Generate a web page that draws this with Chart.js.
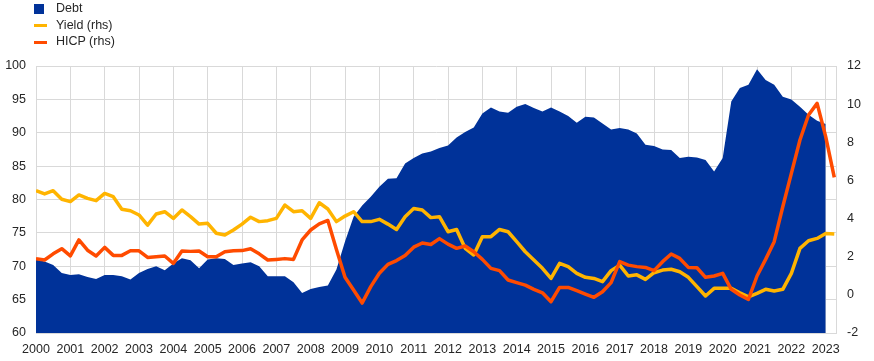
<!DOCTYPE html>
<html>
<head>
<meta charset="utf-8">
<script src="https://cdn.jsdelivr.net/npm/chart.js@4/dist/chart.umd.min.js"></script>
<style>
  html, body { margin: 0; padding: 0; background: #ffffff; overflow: hidden; }
  #wrap { position: relative; width: 874px; height: 361px; }
  #c { position: absolute; left: 0; top: 0; }
  .leg { position: absolute; left: 0; top: 0; font-family: "Liberation Sans", Arial, sans-serif; font-size: 12.5px; color: #262626; }
  .item { position: absolute; left: 56px; height: 15px; line-height: 15px; white-space: nowrap; }
  .mk { position: absolute; }
</style>
</head>
<body>
<div id="wrap">
  <canvas id="c" width="874" height="361"></canvas>
  <div class="leg">
    <div class="mk" style="left:34px;top:4px;width:10px;height:10px;background:#003299"></div>
    <div class="item" style="top:1px">Debt</div>
    <div class="mk" style="left:34px;top:24px;width:13px;height:3px;background:#FFB400"></div>
    <div class="item" style="top:17.5px">Yield (rhs)</div>
    <div class="mk" style="left:34px;top:40.5px;width:13px;height:3px;background:#FF4B00"></div>
    <div class="item" style="top:34px">HICP (rhs)</div>
  </div>
</div>
<script>
// Quarterly data, first observation 2000 Q1
const startYear = 2000;
const seriesNames = ["Debt", "Yield (rhs)", "HICP (rhs)"];
const yearTicks = [2000, 2001, 2002, 2003, 2004, 2005, 2006, 2007, 2008, 2009, 2010, 2011,
                   2012, 2013, 2014, 2015, 2016, 2017, 2018, 2019, 2020, 2021, 2022, 2023];
const leftTicks = [60, 65, 70, 75, 80, 85, 90, 95, 100];
const rightTicks = [-2, 0, 2, 4, 6, 8, 10, 12];

// Debt (% of GDP), 2000Q1 .. 2023Q1
const debt = [
  71.0, 70.7, 70.2, 69.0,
  68.7, 68.8, 68.4, 68.1,
  68.7, 68.7, 68.5, 68.0,
  69.0, 69.6, 70.0, 69.4,
  70.4, 71.2, 70.9, 69.7,
  71.0, 71.2, 71.1, 70.2,
  70.4, 70.6, 70.0, 68.5,
  68.5, 68.5, 67.6, 66.0,
  66.6, 66.9, 67.1, 69.5,
  73.7, 77.4, 79.1, 80.4,
  81.9, 83.1, 83.2, 85.4,
  86.2, 86.9, 87.2, 87.7,
  88.1, 89.3, 90.1, 90.8,
  92.9, 93.8, 93.2, 93.0,
  93.9, 94.3, 93.7, 93.2,
  93.8, 93.2, 92.5, 91.5,
  92.4, 92.3, 91.4, 90.5,
  90.7, 90.5, 89.9, 88.2,
  88.0, 87.5, 87.4, 86.2,
  86.4, 86.3, 85.9, 84.2,
  86.2, 94.7, 96.7, 97.2,
  99.5, 97.9, 97.2, 95.4,
  95.0, 93.9, 92.7, 91.8,
  91.3
];

// 10-year yield (%, rhs), 2000Q1 .. 2023Q2
const yieldRhs = [
  5.46, 5.29, 5.46, 5.01,
  4.89, 5.24, 5.06, 4.94,
  5.32, 5.15, 4.49, 4.41,
  4.19, 3.66, 4.24, 4.36,
  4.01, 4.45, 4.10, 3.71,
  3.75, 3.23, 3.14, 3.40,
  3.71, 4.07, 3.84, 3.89,
  4.01, 4.71, 4.36, 4.41,
  4.01, 4.83, 4.50, 3.84,
  4.13, 4.36, 3.84, 3.84,
  3.96, 3.71, 3.43, 4.10,
  4.53, 4.45, 4.05, 4.10,
  3.31, 3.43, 2.44, 2.09,
  3.05, 3.05, 3.43, 3.31,
  2.79, 2.26, 1.83, 1.39,
  0.86, 1.65, 1.48, 1.13,
  0.92, 0.86, 0.69, 1.27,
  1.56, 0.99, 1.05, 0.81,
  1.16, 1.30, 1.34, 1.21,
  0.92, 0.43, -0.06, 0.34,
  0.34, 0.34, 0.11, -0.10,
  0.08, 0.29, 0.20, 0.29,
  1.13, 2.44, 2.84, 2.96,
  3.22, 3.19
];

// HICP inflation (%, rhs), 2000Q1 .. 2023Q2
const hicp = [
  1.90, 1.83, 2.15, 2.42,
  2.04, 2.88, 2.34, 2.04,
  2.49, 2.07, 2.07, 2.31,
  2.31, 1.96, 2.00, 2.04,
  1.65, 2.30, 2.28, 2.30,
  2.00, 2.00, 2.26, 2.31,
  2.32, 2.42, 2.15, 1.83,
  1.86, 1.90, 1.86, 2.88,
  3.40, 3.72, 3.90, 2.38,
  0.92, 0.25, -0.43, 0.43,
  1.13, 1.60, 1.80, 2.06,
  2.50, 2.72, 2.64, 2.95,
  2.66, 2.44, 2.56, 2.26,
  1.86, 1.39, 1.27, 0.78,
  0.64, 0.51, 0.29, 0.11,
  -0.36, 0.39, 0.39, 0.22,
  0.04, -0.13, 0.16, 0.64,
  1.74, 1.56, 1.48, 1.44,
  1.27, 1.74, 2.14, 1.91,
  1.44, 1.42, 0.92, 0.99,
  1.13, 0.29, -0.01, -0.24,
  0.99, 1.86, 2.79, 4.62,
  6.37, 8.12, 9.43, 10.04,
  8.30, 6.16
];

const toPoints = arr => arr.map((v, i) => ({ x: startYear + i / 4, y: v }));

const gridColor = '#d9d9d9';
const textColor = '#262626';
const tickFont = { family: 'Liberation Sans, Arial, sans-serif', size: 12.5 };

new Chart(document.getElementById('c'), {
  type: 'line',
  data: {
    datasets: [
      {
        label: seriesNames[2], data: toPoints(hicp), yAxisID: 'y1',
        borderColor: '#FF4B00', borderWidth: 3.5, pointRadius: 0, fill: false,
        tension: 0, borderJoinStyle: 'round', order: 1
      },
      {
        label: seriesNames[1], data: toPoints(yieldRhs), yAxisID: 'y1',
        borderColor: '#FFB400', borderWidth: 3.5, pointRadius: 0, fill: false,
        tension: 0, borderJoinStyle: 'round', order: 2
      },
      {
        label: seriesNames[0], data: toPoints(debt), yAxisID: 'y',
        borderColor: '#003299', backgroundColor: '#003299', borderWidth: 0,
        pointRadius: 0, fill: 'start', tension: 0, order: 3
      }
    ]
  },
  options: {
    responsive: false,
    animation: false,
    devicePixelRatio: 1,
    layout: { padding: { top: 66, left: 0, right: 0, bottom: 0 } },
    plugins: { legend: { display: false }, tooltip: { enabled: false } },
    scales: {
      x: {
        type: 'linear', position: 'bottom',
        min: yearTicks[0], max: 2023.3,
        afterBuildTicks: s => { s.ticks = yearTicks.map(v => ({ value: v })); },
        ticks: {
          autoSkip: false, maxRotation: 0, includeBounds: false,
          color: textColor, font: tickFont, padding: 9,
          callback: v => String(v)
        },
        grid: { color: gridColor, lineWidth: 1, drawTicks: false },
        border: { display: true, color: gridColor },
        afterFit: s => { s.height = 28; }
      },
      y: {
        position: 'left', min: leftTicks[0], max: leftTicks[leftTicks.length - 1],
        afterBuildTicks: s => { s.ticks = leftTicks.map(v => ({ value: v })); },
        ticks: { color: textColor, font: tickFont, padding: 10 },
        grid: { color: gridColor, lineWidth: 1, drawTicks: false },
        border: { display: true, color: gridColor },
        afterFit: s => { s.width = 36; }
      },
      y1: {
        position: 'right', min: rightTicks[0], max: rightTicks[rightTicks.length - 1],
        afterBuildTicks: s => { s.ticks = rightTicks.map(v => ({ value: v })); },
        ticks: { color: textColor, font: tickFont, padding: 11 },
        grid: { drawOnChartArea: false, drawTicks: false },
        border: { display: true, color: gridColor },
        afterFit: s => { s.width = 38; }
      }
    }
  }
});
</script>
</body>
</html>
